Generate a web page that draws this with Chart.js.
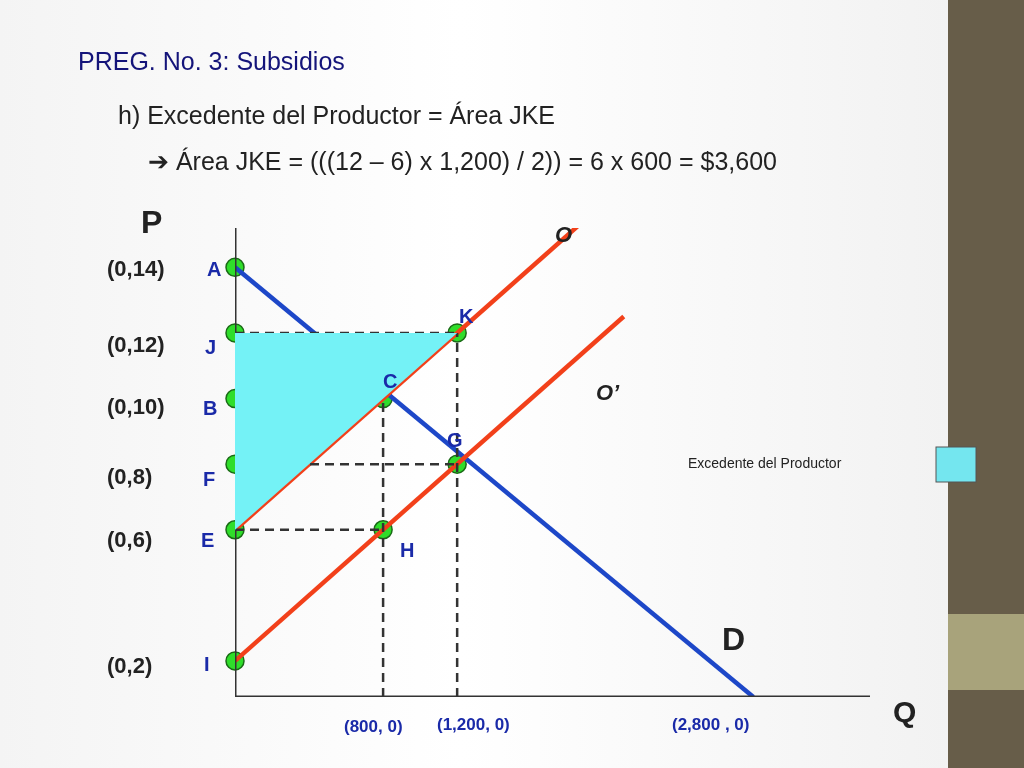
<!DOCTYPE html>
<html><head><meta charset="utf-8">
<script src="https://cdn.jsdelivr.net/npm/chart.js@4/dist/chart.umd.min.js"></script>
<style>
html,body{margin:0;padding:0;width:1024px;height:768px;overflow:hidden;background:linear-gradient(90deg,#f4f4f4,#ffffff 45%,#f0f0f0);}
#wrap{position:absolute;left:0;top:0;width:1024px;height:768px;}
#strip{position:absolute;left:948px;top:0;width:76px;height:768px;background:#675d49;}
#strip2{position:absolute;left:948px;top:614px;width:76px;height:76px;background:#a8a37b;}
</style></head>
<body>
<div id="strip"></div><div id="strip2"></div>
<div id="wrap"><canvas id="c" width="1024" height="768"></canvas></div>
<script>
// ============ DATA ============
const DEMAND = [{x:0,y:14},{x:2800,y:0.9}];
const SUPPLY_O = [{x:0,y:6},{x:1950,y:15.75}];
const SUPPLY_O2 = [{x:0,y:2},{x:2100,y:12.5}];
const SURPLUS_TOP = [{x:0,y:12},{x:1200,y:12}];
const SURPLUS_BOTTOM = [{x:0,y:6},{x:1200,y:12}];
const POINTS = [{x:0,y:14},{x:0,y:12},{x:0,y:10},{x:0,y:8},{x:0,y:6},{x:0,y:2},
  {x:800,y:10},{x:1200,y:12},{x:1200,y:8},{x:800,y:6}];
const DASHES = [
  [{x:0,y:12},{x:1200,y:12}], [{x:0,y:10},{x:800,y:10}],
  [{x:0,y:8},{x:1200,y:8}], [{x:0,y:6},{x:800,y:6}],
  [{x:800,y:0.9},{x:800,y:10}], [{x:1200,y:0.9},{x:1200,y:12}]
];
const Y_MIN = 0.9, Y_MAX = 15.2, X_MAX = 3430;

// ============ TEXT ============
const F = "'Liberation Sans', Arial, sans-serif";
const texts = [
  {t:"PREG. No. 3: Subsidios",x:78,y:63,f:"25px "+F,c:"#14147a"},
  {t:"h) Excedente del Productor = Área JKE",x:118,y:117,f:"25px "+F,c:"#222"},
  {t:"➔ Área JKE = (((12 – 6) x 1,200) / 2)) = 6 x 600 = $3,600",x:148,y:163,f:"25px "+F,c:"#222"},
  {t:"P",x:141,y:224,f:"bold 32px "+F,c:"#222"},
  {t:"Q",x:893,y:714,f:"bold 30px "+F,c:"#222"},
  {t:"D",x:722,y:641,f:"bold 32px "+F,c:"#222"},
  {t:"O",x:555,y:236,f:"bold italic 22px "+F,c:"#222"},
  {t:"O’",x:596,y:394,f:"bold italic 22px "+F,c:"#222"},
  {t:"(0,14)",x:107,y:270,f:"bold 22px "+F,c:"#222"},
  {t:"(0,12)",x:107,y:346,f:"bold 22px "+F,c:"#222"},
  {t:"(0,10)",x:107,y:408,f:"bold 22px "+F,c:"#222"},
  {t:"(0,8)",x:107,y:478,f:"bold 22px "+F,c:"#222"},
  {t:"(0,6)",x:107,y:541,f:"bold 22px "+F,c:"#222"},
  {t:"(0,2)",x:107,y:667,f:"bold 22px "+F,c:"#222"},
  {t:"A",x:207,y:270,f:"bold 20px "+F,c:"#1a2aa8"},
  {t:"J",x:205,y:348,f:"bold 20px "+F,c:"#1a2aa8"},
  {t:"B",x:203,y:409,f:"bold 20px "+F,c:"#1a2aa8"},
  {t:"F",x:203,y:480,f:"bold 20px "+F,c:"#1a2aa8"},
  {t:"E",x:201,y:541,f:"bold 20px "+F,c:"#1a2aa8"},
  {t:"I",x:204,y:665,f:"bold 20px "+F,c:"#1a2aa8"},
  {t:"K",x:459,y:317,f:"bold 20px "+F,c:"#1a2aa8"},
  {t:"C",x:383,y:382,f:"bold 20px "+F,c:"#1a2aa8"},
  {t:"G",x:447,y:441,f:"bold 20px "+F,c:"#1a2aa8"},
  {t:"H",x:400,y:551,f:"bold 20px "+F,c:"#1a2aa8"},
  {t:"(800, 0)",x:344,y:727,f:"bold 17px "+F,c:"#1a2aa8"},
  {t:"(1,200, 0)",x:437,y:725,f:"bold 17px "+F,c:"#1a2aa8"},
  {t:"(2,800 , 0)",x:672,y:725,f:"bold 17px "+F,c:"#1a2aa8"},
  {t:"Excedente del Productor",x:688,y:464,f:"14px "+F,c:"#222"}
];

const labelPlugin = {
  id: "labels",
  afterDraw(chart) {
    const ctx = chart.ctx;
    ctx.save();
    ctx.textBaseline = "middle";
    texts.forEach(o => { ctx.font = o.f; ctx.fillStyle = o.c; ctx.fillText(o.t, o.x, o.y); });
    ctx.fillStyle = "#74e6ef"; ctx.strokeStyle = "#555"; ctx.lineWidth = 1;
    ctx.fillRect(936, 447, 40, 35); ctx.strokeRect(936, 447, 40, 35);
    ctx.restore();
  }
};

const line = (data, color, width, extra) => Object.assign({
  type: "line", data, borderColor: color, borderWidth: width, pointRadius: 0, fill: false, tension: 0
}, extra || {});

const datasets = [
  line(SURPLUS_TOP, "rgba(0,0,0,0)", 0, {fill: "+1", backgroundColor: "#74f2f6"}),
  line(SURPLUS_BOTTOM, "rgba(0,0,0,0)", 0),
  ...DASHES.map(d => line(d, "#333", 2.5, {borderDash: [9, 6]})),
  line([{x:0,y:Y_MIN},{x:0,y:Y_MAX}], "#333", 3),
  line([{x:0,y:Y_MIN},{x:X_MAX,y:Y_MIN}], "#333", 3),
  line(SUPPLY_O, "#f2401a", 4.5),
  line(SUPPLY_O2, "#f2401a", 4.5),
  line(DEMAND, "#1d47c8", 4.5),
  {type: "scatter", data: POINTS, clip: false, pointRadius: 9, pointBackgroundColor: "#2fdd2a", pointBorderColor: "#1a6a16", pointBorderWidth: 1.5}
];

new Chart(document.getElementById("c"), {
  type: "line",
  data: {datasets},
  plugins: [labelPlugin],
  options: {
    responsive: false, animation: false,
    layout: {padding: {left: 235, right: 154, top: 228, bottom: 71}},
    plugins: {legend: {display: false}, tooltip: {enabled: false}, filler: {propagate: false}},
    scales: {
      x: {type: "linear", min: 0, max: X_MAX, display: false},
      y: {type: "linear", min: Y_MIN, max: Y_MAX, display: false}
    },
    elements: {line: {borderCapStyle: "butt"}}
  }
});
</script>
</body></html>
